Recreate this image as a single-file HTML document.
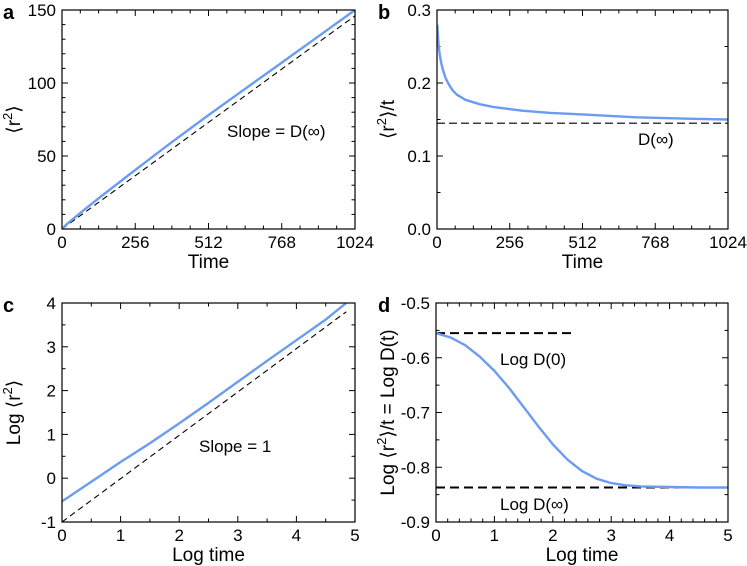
<!DOCTYPE html>
<html><head><meta charset="utf-8"><style>
body{margin:0;background:#fff;}
svg{display:block;font-family:"Liberation Sans",sans-serif;}
</style></head><body>
<svg id="fig" width="747" height="566" viewBox="0 0 747 566"></svg>
<script>
// Panel a data
const aT=[0,16,64,128,256,384,512,640,768,896,1024];
const aBlue=[0,3.2,11,21,40.5,59.5,78,96,114,132,150];
const aDashT=[0,1024];
const aDash=[0,146];
// Panel b data
const bT=[1,3,6,10,15,20,30,40,55,70,100,150,200,300,400,512,700,900,1024];
const bBlue=[0.28,0.265,0.25,0.238,0.227,0.219,0.207,0.199,0.19,0.184,0.177,0.171,0.167,0.162,0.159,0.157,0.153,0.151,0.150];
const bDashT=[0,1024];
const bDash=[0.145,0.145];
// Panel c data
const cX=[0,0.5,1,1.5,2,2.5,3,3.5,4,4.5,4.85];
const cBlue=[-0.53,-0.08,0.37,0.8,1.25,1.72,2.2,2.68,3.15,3.62,4.0];
const cDashX=[0,4.85];
const cDash=[-1,3.8];
// Panel d data
const dX=[0,0.25,0.5,0.75,1,1.25,1.5,1.75,2,2.25,2.5,2.75,3,3.25,3.5,4,4.5,5];
const dBlue=[-0.555,-0.563,-0.577,-0.598,-0.624,-0.655,-0.69,-0.725,-0.758,-0.786,-0.807,-0.821,-0.829,-0.833,-0.835,-0.836,-0.837,-0.837];
const d0X=[0,2.35], d0Y=[-0.555,-0.555];
const dInfX=[0,5], dInfY=[-0.837,-0.837];
// Tick labels
const aXTicks=[0,256,512,768,1024], aYTicks=[0,50,100,150];
const bXTicks=[0,256,512,768,1024], bYTicks=["0.0","0.1","0.2","0.3"];
const cXTicks=[0,1,2,3,4,5], cYTicks=[-1,0,1,2,3,4];
const dXTicks=[0,1,2,3,4,5], dYTicks=["-0.9","-0.8","-0.7","-0.6","-0.5"];

const NS="http://www.w3.org/2000/svg";
const svg=document.getElementById('fig');
function el(tag,attrs,parent,text){const e=document.createElementNS(NS,tag);for(const k in attrs)e.setAttribute(k,attrs[k]);if(text!==undefined)e.textContent=text;(parent||svg).appendChild(e);return e;}

function panel(o){
  const g=el('g',{});
  
  
  const sx=v=>o.x0+(v-o.xmin)/(o.xmax-o.xmin)*(o.x1-o.x0);
  const sy=v=>o.y1-(v-o.ymin)/(o.ymax-o.ymin)*(o.y1-o.y0);
  const clip=el('clipPath',{id:'clip'+o.id},g);
  el('rect',{x:o.x0,y:o.y0,width:o.x1-o.x0,height:o.y1-o.y0},clip);
  const tg=el('g',{stroke:'#000','stroke-width':1},g);
  for(let v=o.xmin;v<=o.xmax+1e-9;v+=o.xminor){
    const major=Math.abs(((v-o.xmin)/o.xmajor)-Math.round((v-o.xmin)/o.xmajor))<1e-6;
    const L=major?6:3.5;const X=sx(v);
    el('line',{x1:X,y1:o.y1,x2:X,y2:o.y1-L},tg);el('line',{x1:X,y1:o.y0,x2:X,y2:o.y0+L},tg);
  }
  for(let v=o.ymin;v<=o.ymax+1e-9;v+=o.yminor){
    const major=Math.abs(((v-o.ymin)/o.ymajor)-Math.round((v-o.ymin)/o.ymajor))<1e-6;
    const L=major?6:3.5;const Y=sy(v);
    el('line',{x1:o.x0,y1:Y,x2:o.x0+L,y2:Y},tg);el('line',{x1:o.x1,y1:Y,x2:o.x1-L,y2:Y},tg);
  }
  o.xt.forEach(t=>{const e=el('text',{x:sx(+t),y:o.y1+19,'text-anchor':'middle','font-size':17},g,t);
    });
  o.yt.forEach(t=>{const e=el('text',{x:o.x0-6,y:sy(+t)+6,'text-anchor':'end','font-size':17},g,t);
    });
  const pg=el('g',{'clip-path':'url(#clip'+o.id+')',fill:'none'},g);
  o.series.forEach(s=>{
    const d=s.xs.map((x,i)=>(i?'L':'M')+sx(x).toFixed(1)+','+sy(s.ys[i]).toFixed(1)).join(' ');
    const p=el('path',{d:d,stroke:s.c,'stroke-width':s.w,'stroke-dasharray':s.dash||'none','stroke-linejoin':'round'},pg);
    
  });
  const fr=el('rect',{x:o.x0,y:o.y0,width:o.x1-o.x0,height:o.y1-o.y0,fill:'none',stroke:'#000','stroke-width':1.2},g);
  
  const xl=el('text',{x:(o.x0+o.x1)/2,y:o.y1+39,'text-anchor':'middle','font-size':19},g,o.xlabel);
  
  const yl=el('text',{transform:`translate(${o.ylx},${(o.y0+o.y1)/2}) rotate(-90)`,'text-anchor':'middle','font-size':19},g);
  
  yl.innerHTML=o.ylabel;
  const lt=el('text',{x:o.lx,y:o.y0+9,'font-size':20,'font-weight':'bold'},g,o.id);
  
  o.notes.forEach(n=>{const e=el('text',{x:n[0],y:n[1],'font-size':17},g,n[2]);
    });
}
const BLUE='#6b9cf2';
const r2='&#10216;r<tspan dy="-8" font-size="13">2</tspan><tspan dy="8">&#10217;</tspan>';
panel({id:'a',x0:62,x1:355,y0:10,y1:229,xmin:0,xmax:1024,ymin:0,ymax:150,xmajor:256,xminor:64,ymajor:50,yminor:10,
  xt:aXTicks,yt:aYTicks,xlabel:'Time',ylabel:r2,ylx:20,lx:3,notes:[[227,137,'Slope = D(\u221E)']],
  series:[{xs:aDashT,ys:aDash,c:'#000',w:1.1,dash:'6,4',name:'slope-reference-line'},{xs:aT,ys:aBlue,c:BLUE,w:2.4,name:'msd-curve'}]});
panel({id:'b',x0:437,x1:728,y0:10,y1:229,xmin:0,xmax:1024,ymin:0,ymax:0.3,xmajor:256,xminor:64,ymajor:0.1,yminor:0.05,
  xt:bXTicks,yt:bYTicks,xlabel:'Time',ylabel:r2+'<tspan>/t</tspan>',ylx:394,lx:378,notes:[[638,145,'D(\u221E)']],
  series:[{xs:bDashT,ys:bDash,c:'#000',w:1.1,dash:'8,4',name:'d-infinity-line'},{xs:bT,ys:bBlue,c:BLUE,w:2.4,name:'msd-over-t-curve'}]});
panel({id:'c',x0:62,x1:355,y0:303,y1:522,xmin:0,xmax:5,ymin:-1,ymax:4,xmajor:1,xminor:0.5,ymajor:1,yminor:0.5,
  xt:cXTicks,yt:cYTicks,xlabel:'Log time',ylabel:'Log '+r2,ylx:20,lx:3,notes:[[199,452,'Slope = 1']],
  series:[{xs:cDashX,ys:cDash,c:'#000',w:1.1,dash:'6,4',name:'slope-one-line'},{xs:cX,ys:cBlue,c:BLUE,w:2.4,name:'log-msd-curve'}]});
panel({id:'d',x0:436,x1:728,y0:303,y1:522,xmin:0,xmax:5,ymin:-0.9,ymax:-0.5,xmajor:1,xminor:0.2,ymajor:0.1,yminor:0.05,
  xt:dXTicks,yt:dYTicks,xlabel:'Log time',ylabel:'Log '+r2+'<tspan>/t = Log D(t)</tspan>',ylx:394,lx:378,
  notes:[[500,365,'Log D(0)'],[500,510,'Log D(\u221E)']],
  series:[{xs:d0X,ys:d0Y,c:'#000',w:2,dash:'9,5',name:'log-d0-line'},{xs:dInfX,ys:dInfY,c:'#000',w:2,dash:'9,5',name:'log-dinf-line'},{xs:dX,ys:dBlue,c:BLUE,w:2.4,name:'log-d-curve'}]});
</script>
</body></html>
